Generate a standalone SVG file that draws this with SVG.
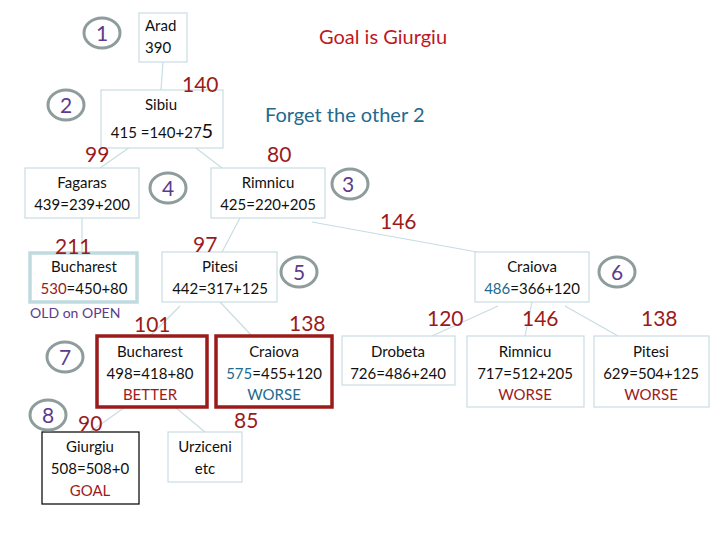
<svg xmlns="http://www.w3.org/2000/svg" width="720" height="540" viewBox="0 0 720 540">
<style>
.box{fill:#fff;stroke:#c8dde2;stroke-width:1.2}
.old{fill:#fff;stroke:#c0dbe0;stroke-width:3.5}
.red{fill:#fff;stroke:#9b1b1b;stroke-width:3.5}
.goal{fill:#fff;stroke:#111;stroke-width:1.3}
.t{font-family:Lato,"Open Sans",sans-serif;font-size:15px;fill:#111;text-anchor:middle}
.n{font-family:Lato,"Open Sans",sans-serif;font-size:21px;fill:#9b1b1b}
.c{fill:none;stroke:#8e9c9c;stroke-width:3}
.cn{font-family:Lato,"Open Sans",sans-serif;font-size:21px;fill:#5b3c8c;text-anchor:middle}
.conn line{stroke:#c8dde2;stroke-width:1.2}
.rd{fill:#9b1b1b}
.bl{fill:#236a8e}
</style>
<g class="conn">
<line x1="163" y1="62" x2="161" y2="90"/>
<line x1="133" y1="145" x2="100" y2="168"/>
<line x1="192" y1="145" x2="222" y2="168"/>
<line x1="82" y1="218" x2="82" y2="252"/>
<line x1="240" y1="218" x2="222" y2="252"/>
<line x1="312" y1="222" x2="477" y2="252"/>
<line x1="180" y1="306" x2="150" y2="336"/>
<line x1="220" y1="302" x2="252" y2="336"/>
<line x1="498" y1="306" x2="432" y2="336"/>
<line x1="532" y1="302" x2="525" y2="336"/>
<line x1="565" y1="306" x2="618" y2="336"/>
<line x1="125" y1="407" x2="90" y2="432"/>
<line x1="175" y1="407" x2="205" y2="432"/>
</g>
<g id="arad"><rect class="box" x="139" y="13" width="48" height="49"/><text class="t" x="145" y="31" style="text-anchor:start">Arad</text><text class="t" x="145" y="53" style="text-anchor:start">390</text></g>
<g id="sibiu"><rect class="box" x="101" y="90" width="122" height="58"/><text class="t" x="161" y="110">Sibiu</text><text class="t" x="162" y="138">415 =140+27<tspan style="font-size:20px">5</tspan></text></g>
<g id="fagaras"><rect class="box" x="25" y="168" width="114" height="50"/><text class="t" x="82" y="188">Fagaras</text><text class="t" x="82" y="210">439=239+200</text></g>
<g id="rimnicu"><rect class="box" x="211" y="168" width="114" height="50"/><text class="t" x="268" y="188">Rimnicu</text><text class="t" x="268" y="210">425=220+205</text></g>
<g id="bucharest1"><rect class="old" x="30" y="253" width="107" height="49"/><text class="t" x="84" y="272">Bucharest</text><text class="t" x="84" y="294"><tspan class="rd">530</tspan>=450+80</text></g>
<g id="pitesi"><rect class="box" x="162" y="252" width="115" height="50"/><text class="t" x="220" y="272">Pitesi</text><text class="t" x="220" y="294">442=317+125</text></g>
<g id="craiova"><rect class="box" x="475" y="252" width="114" height="50"/><text class="t" x="532" y="272">Craiova</text><text class="t" x="532" y="294"><tspan class="bl">486</tspan>=366+120</text></g>
<g id="bucharest2"><rect class="red" x="97" y="336" width="110" height="71"/><text class="t" x="150" y="357">Bucharest</text><text class="t" x="150" y="379">498=418+80</text><text class="t rd" x="150" y="400">BETTER</text></g>
<g id="craiova2"><rect class="red" x="216" y="336" width="116" height="71"/><text class="t" x="274" y="357">Craiova</text><text class="t" x="274" y="379"><tspan class="bl">575</tspan>=455+120</text><text class="t bl" x="274" y="400">WORSE</text></g>
<g id="drobeta"><rect class="box" x="342" y="336" width="113" height="49"/><text class="t" x="398" y="357">Drobeta</text><text class="t" x="398" y="379">726=486+240</text></g>
<g id="rimnicu2"><rect class="box" x="467" y="336" width="117" height="71"/><text class="t" x="525" y="357">Rimnicu</text><text class="t" x="525" y="379">717=512+205</text><text class="t rd" x="525" y="400">WORSE</text></g>
<g id="pitesi2"><rect class="box" x="594" y="336" width="115" height="71"/><text class="t" x="651" y="357">Pitesi</text><text class="t" x="651" y="379">629=504+125</text><text class="t rd" x="651" y="400">WORSE</text></g>
<g id="giurgiu"><rect class="goal" x="42" y="432" width="97" height="72"/><text class="t" x="90" y="452">Giurgiu</text><text class="t" x="90" y="474">508=508+0</text><text class="t rd" x="90" y="496">GOAL</text></g>
<g id="urziceni"><rect class="box" x="168" y="432" width="74" height="50"/><text class="t" x="205" y="452">Urziceni</text><text class="t" x="205" y="474">etc</text></g>
<g id="labels">
<text class="n" x="182" y="92">140</text>
<text class="n" x="85" y="162">99</text>
<text class="n" x="267" y="162">80</text>
<text class="n" x="380" y="229">146</text>
<text class="n" x="55" y="254">211</text>
<text class="n" x="193" y="252">97</text>
<text class="n" x="134" y="332">101</text>
<text class="n" x="289" y="331">138</text>
<text class="n" x="427" y="326">120</text>
<text class="n" x="522" y="326">146</text>
<text class="n" x="641" y="326">138</text>
<text class="n" x="78" y="431">90</text>
<text class="n" x="234" y="428">85</text>
<text x="319" y="44" style="font-family:Lato,'Open Sans',sans-serif;font-size:20px;fill:#c0171f">Goal is Giurgiu</text>
<text x="265" y="122" style="font-family:Lato,'Open Sans',sans-serif;font-size:20px;fill:#236a8e">Forget the other 2</text>
<text x="30" y="318" style="font-family:Lato,'Open Sans',sans-serif;font-size:14px;fill:#5b3c8c">OLD on OPEN</text>
</g>
<g id="circles">
<ellipse class="c" cx="102" cy="33" rx="18" ry="15"/><text class="cn" x="102" y="41">1</text>
<ellipse class="c" cx="66" cy="105" rx="18" ry="15"/><text class="cn" x="66" y="113">2</text>
<ellipse class="c" cx="350" cy="184" rx="18" ry="15"/><text class="cn" x="348" y="192">3</text>
<ellipse class="c" cx="168" cy="188" rx="18" ry="15"/><text class="cn" x="168" y="196">4</text>
<ellipse class="c" cx="299" cy="272" rx="18" ry="15"/><text class="cn" x="299" y="280">5</text>
<ellipse class="c" cx="617" cy="272" rx="18" ry="15"/><text class="cn" x="617" y="280">6</text>
<ellipse class="c" cx="65" cy="357" rx="18" ry="15"/><text class="cn" x="65" y="365">7</text>
<ellipse class="c" cx="48" cy="415" rx="18" ry="15"/><text class="cn" x="48" y="423">8</text>
</g>
</svg>
